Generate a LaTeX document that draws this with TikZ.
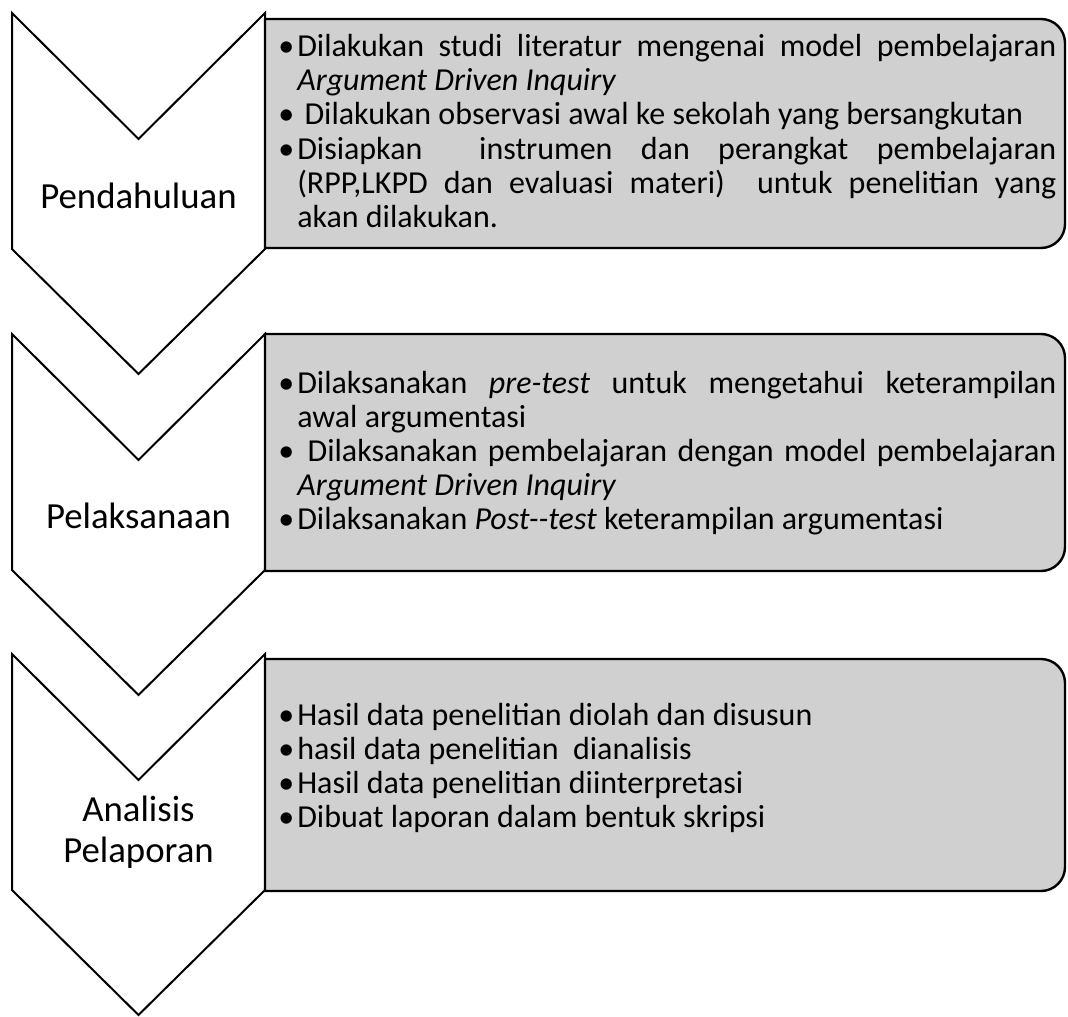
\documentclass[tikz,border=0pt]{standalone}
\usepackage{fontspec}
\setmainfont{Carlito}
\definecolor{panelgray}{RGB}{208,208,208}
\hbadness=10000
\hyphenpenalty=10000
\exhyphenpenalty=10000
\newenvironment{poin}{\begin{list}{\textbullet}{%
  \setlength{\leftmargin}{14.25pt}\setlength{\labelwidth}{12pt}%
  \setlength{\labelsep}{2.25pt}\setlength{\itemsep}{0pt}%
  \setlength{\parsep}{0pt}\setlength{\topsep}{0pt}\setlength{\partopsep}{0pt}}}%
  {\end{list}}

\begin{document}
\begin{tikzpicture}[x=0.75pt,y=-0.75pt,
    chevron/.style={draw=black,line width=1.5pt,fill=white,line join=miter},
    panel/.style={draw=black,line width=1.8pt,fill=panelgray},
    fase/.style={align=center,font=\fontsize{27.6}{31}\selectfont},
    isi/.style={text width=583.5pt,inner sep=0pt,align=justify,anchor=west,
      font=\fontsize{24}{25.6}\selectfont}]
        \useasboundingbox (0,0) rectangle (1068,1017);

        % panah tahapan
        \foreach \t in {13,334,654}
            \draw[chevron] (12,\t) -- (138.5,\t+126) -- (265,\t) -- (265,\t+236)
            -- (138.5,\t+361) -- (12,\t+236) -- cycle;

        % kotak kegiatan
        \draw[panel] (265,19) -- (1041,19) arc[start angle=90,end angle=0,radius=18pt]
        -- (1065,224) arc[start angle=0,end angle=-90,radius=18pt] -- (265,248) -- cycle;
        \draw[panel] (265,334) -- (1041,334) arc[start angle=90,end angle=0,radius=18pt]
        -- (1065,547) arc[start angle=0,end angle=-90,radius=18pt] -- (265,571) -- cycle;
        \draw[panel] (265,659) -- (1041,659) arc[start angle=90,end angle=0,radius=18pt]
        -- (1065,867) arc[start angle=0,end angle=-90,radius=18pt] -- (265,891) -- cycle;

        % nama tahapan
        \node[fase] (pendahuluan) at (138.5,196) {Pendahuluan};
        \node[fase] (pelaksanaan) at (138.5,516) {Pelaksanaan};
        \node[fase] (analisis) at (138.5,832) {Analisis\\Pelaporan};

        % isi kegiatan
        \node[isi] (isi1) at (278,125) {\begin{poin}
            \item Dilakukan studi literatur mengenai model pembelajaran\linebreak
            \textit{Argument Driven Inquiry}
            \item \ Dilakukan observasi awal ke sekolah yang bersangkutan
            \item Disiapkan \ instrumen dan perangkat pembelajaran\linebreak
            (RPP,LKPD dan evaluasi materi) \ untuk penelitian yang\linebreak
            akan dilakukan.
        \end{poin}};
        \node[isi] (isi2) at (278,447) {\begin{poin}
            \item Dilaksanakan \textit{pre-test} untuk mengetahui keterampilan\linebreak
            awal argumentasi
            \item \ Dilaksanakan pembelajaran dengan model pembelajaran\linebreak
            \textit{Argument Driven Inquiry}
            \item Dilaksanakan \textit{Post-{}-test} keterampilan argumentasi
        \end{poin}};
        \node[isi] (isi3) at (278,762) {\begin{poin}
            \item Hasil data penelitian diolah dan disusun
            \item hasil data penelitian \ dianalisis
            \item Hasil data penelitian diinterpretasi
            \item Dibuat laporan dalam bentuk skripsi
        \end{poin}};
\end{tikzpicture}
\end{document}
